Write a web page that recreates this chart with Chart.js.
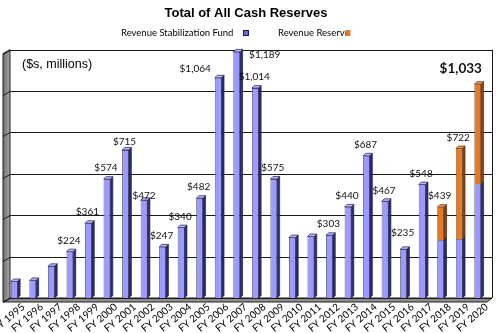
<!DOCTYPE html>
<html><head><meta charset="utf-8">
<script src="https://cdn.jsdelivr.net/npm/chart.js@4/dist/chart.umd.min.js"></script>
<style>html,body{margin:0;padding:0;background:#fff;}#wrap{width:500px;height:333px;}</style>
</head><body><div id="wrap"><canvas id="c" width="500" height="333"></canvas></div>
<script>
const categories = ['FY 1995','FY 1996','FY 1997','FY 1998','FY 1999','FY 2000','FY 2001','FY 2002','FY 2003','FY 2004','FY 2005','FY 2006','FY 2007','FY 2008','FY 2009','FY 2010','FY 2011','FY 2012','FY 2013','FY 2014','FY 2015','FY 2016','FY 2017','FY 2018','FY 2019','FY 2020'];
const stabilizationFund = [80, 85, 153, 224, 361, 574, 715, 472, 247, 340, 482, 1064, 1189, 1014, 575, 292, 297, 303, 440, 687, 467, 235, 548, 279, 284, 550];
const revenueReserve = [null,null,null,null,null,null,null,null,null,null,null,null,null,null,null,null,null,null,null,null,null,null,null,160, 438, 483];
const valueLabels = ['','','','$224','$361','$574','$715','$472','$247','$340','$482','$1,064','$1,189','$1,014','$575','','','$303','$440','$687','$467','$235','$548','$439','$722','$1,033'];
const yTicks = [0, 200, 400, 600, 800, 1000, 1200];
const unitNote = '($s, millions)';

const labelNudge = {'FY 2001':[0,3],'FY 2002':[1,6],'FY 2006':[-22,2],'FY 2007':[29,14],'FY 2016':[0,-6],'FY 2020':[-16,-5]};
const DEPTH = 2.5;

const frame3d = {
  id: 'frame3d',
  beforeDatasetsDraw(chart) {
    const {ctx, chartArea: a} = chart;
    const ys = chart.scales.y;
    const L = a.left, R = a.right, T = ys.getPixelForValue(1200), B = ys.getPixelForValue(0);
    const dx = 5, dy = 4;
    ctx.save();
    const g = ctx.createLinearGradient(L - 2, 0, L + dx, 0);
    g.addColorStop(0, '#6e6e6e'); g.addColorStop(1, '#a8a8a8');
    ctx.fillStyle = g; ctx.strokeStyle = '#222'; ctx.lineWidth = 1;
    ctx.beginPath();
    ctx.moveTo(L - 2, T + dy); ctx.lineTo(L + dx, T); ctx.lineTo(L + dx, B); ctx.lineTo(L - 2, B + dy); ctx.closePath();
    ctx.fill(); ctx.stroke();
    ctx.fillStyle = '#8f8f8f';
    ctx.beginPath();
    ctx.moveTo(L + dx, B); ctx.lineTo(R + dx, B); ctx.lineTo(R, B + dy); ctx.lineTo(L - 2, B + dy); ctx.closePath();
    ctx.fill(); ctx.stroke();
    ctx.strokeStyle = '#1a1a1a'; ctx.lineWidth = 1;
    yTicks.forEach(v => {
      const y = Math.round(ys.getPixelForValue(v)) + 0.5;
      ctx.beginPath(); ctx.moveTo(L + dx, y); ctx.lineTo(R + dx, y); ctx.stroke();
      ctx.beginPath(); ctx.moveTo(L - 2, y + dy); ctx.lineTo(L + dx, y); ctx.stroke();
    });
    ctx.beginPath(); ctx.moveTo(Math.round(R + dx) + 0.5, T); ctx.lineTo(Math.round(R + dx) + 0.5, B); ctx.stroke();
    ctx.restore();
  }
};

const bars3d = {
  id: 'bars3d',
  afterDatasetsDraw(chart) {
    const {ctx} = chart;
    const m0 = chart.getDatasetMeta(0), m1 = chart.getDatasetMeta(1);
    const styles = [{side: '#2c2c70', top: '#b8b8ff', edge: '#1c1c4a'}, {side: '#8a4210', top: '#f09a52', edge: '#5a2a08'}];
    ctx.save();
    ctx.lineWidth = 0.7;
    [m0, m1].forEach((meta, di) => {
      meta.data.forEach((el, i) => {
        const val = chart.data.datasets[di].data[i];
        if (val === null || val === undefined) return;
        const p = el.getProps(['x', 'y', 'base', 'width'], true);
        const r = p.x + p.width / 2, l = p.x - p.width / 2;
        const st = styles[di];
        ctx.strokeStyle = st.edge;
        ctx.fillStyle = st.side;
        ctx.beginPath();
        ctx.moveTo(r, p.y); ctx.lineTo(r + DEPTH, p.y - DEPTH); ctx.lineTo(r + DEPTH, p.base - DEPTH); ctx.lineTo(r, p.base); ctx.closePath();
        ctx.fill(); ctx.stroke();
        const hasAbove = di === 0 && revenueReserve[i] !== null;
        if (!hasAbove) {
          ctx.fillStyle = st.top;
          ctx.beginPath();
          ctx.moveTo(l, p.y); ctx.lineTo(l + DEPTH, p.y - DEPTH); ctx.lineTo(r + DEPTH, p.y - DEPTH); ctx.lineTo(r, p.y); ctx.closePath();
          ctx.fill(); ctx.stroke();
        }
      });
    });
    ctx.textAlign = 'center'; ctx.textBaseline = 'middle'; ctx.fillStyle = '#111';
    categories.forEach((c, i) => {
      const txt = valueLabels[i];
      if (!txt) return;
      const el = (revenueReserve[i] !== null ? m1 : m0).data[i];
      const p = el.getProps(['x', 'y'], true);
      const n = labelNudge[c] || [0, 0];
      if (i === categories.length - 1) ctx.font = 'bold 13.5px Lato';
      else ctx.font = '10px Lato';
      ctx.fillText(txt, p.x - 1 + n[0], p.y - 11 + n[1]);
    });
    ctx.restore();
  },
  afterDraw(chart) {
    const {ctx} = chart;
    ctx.save();
    ctx.fillStyle = '#000'; ctx.textBaseline = 'middle'; ctx.textAlign = 'left';
    ctx.font = '12.5px "Liberation Sans", Arial';
    ctx.fillText(unitNote, 22, 65);
    ctx.font = '9.5px Lato';
    const ds = chart.data.datasets;
    const x1 = 121, x2 = 278, ly = 33;
    ctx.fillText(ds[0].label, x1, ly);
    ctx.fillStyle = '#6a6ad8'; ctx.strokeStyle = '#1c1c4a'; ctx.lineWidth = 1;
    ctx.fillRect(243, ly - 3, 6, 6); ctx.strokeRect(243.5, ly - 2.5, 5, 5);
    ctx.fillStyle = '#000';
    ctx.fillText(ds[1].label, x2, ly);
    const w2 = ctx.measureText(ds[1].label).width;
    ctx.fillStyle = '#e07b29';
    ctx.fillRect(x2 + w2 - 4, ly - 3, 5, 6);
    ctx.restore();
  }
};

new Chart(document.getElementById('c').getContext('2d'), {
  type: 'bar',
  data: {
    labels: categories,
    datasets: [
      {label: 'Revenue Stabilization Fund', data: stabilizationFund, backgroundColor: '#9a9aff', borderColor: '#1c1c4a', borderWidth: 0.7, barPercentage: 0.36, categoryPercentage: 1},
      {label: 'Revenue Reserve', data: revenueReserve, backgroundColor: '#e07b29', borderColor: '#5a2a08', borderWidth: 0.7, barPercentage: 0.36, categoryPercentage: 1}
    ]
  },
  options: {
    responsive: false, animation: false, devicePixelRatio: 1,
    layout: {padding: {left: 5, right: 13, top: 0, bottom: 0}},
    plugins: {
      legend: {display: false}, tooltip: {enabled: false},
      title: {display: true, text: 'Total of All Cash Reserves', color: '#000', font: {family: '"Liberation Sans", Arial', size: 13, weight: 'bold'}, padding: {top: 6, bottom: 28}}
    },
    scales: {
      x: {stacked: true, grid: {display: false, drawTicks: false, tickLength: 0}, border: {display: false},
          ticks: {autoSkip: false, maxRotation: 40, minRotation: 40, labelOffset: 9, padding: 3, color: '#000', font: {family: 'Lato', size: 10}},
          afterFit: s => { s.height = 35; s.paddingLeft = 0; s.paddingRight = 0; }},
      y: {stacked: true, display: false, min: 0, max: 1200, ticks: {stepSize: 200}}
    }
  },
  plugins: [frame3d, bars3d]
});
</script></body></html>
